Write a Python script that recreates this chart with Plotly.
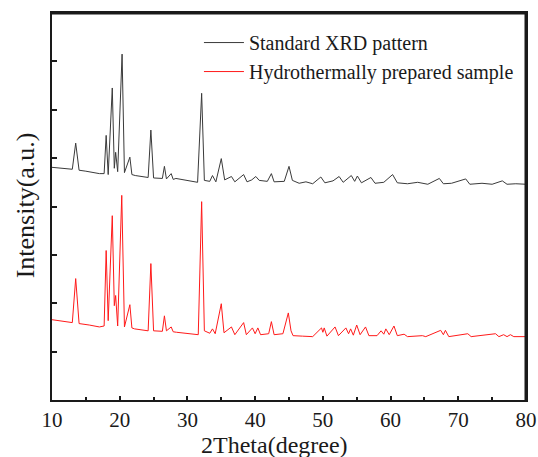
import plotly.graph_objects as go

# Standard XRD pattern (offset upward), vertices
std_x = [10.0, 12.0, 13.0, 13.5, 14.0, 15.0, 17.0, 17.7, 18.0, 18.3, 18.9, 19.2, 19.4, 19.7,
         20.35, 20.7, 21.5, 21.8, 22.3, 24.2, 24.6, 25.0, 26.3, 26.6, 26.9, 27.6, 27.9, 28.3,
         31.5, 32.1, 32.5, 33.3, 33.7, 34.2, 35.0, 35.5, 36.5, 37.0, 38.3, 38.8, 39.5, 40.1,
         40.6, 41.8, 42.4, 42.8, 44.3, 45.0, 45.5, 46.5, 47.5, 48.5, 49.7, 50.3, 51.5, 52.4,
         53.0, 54.2, 54.7, 55.1, 55.7, 57.1, 57.7, 59.0, 60.3, 61.0, 62.5, 64.0, 65.5, 67.2,
         67.8, 69.0, 71.1, 71.7, 73.5, 75.0, 76.5, 77.2, 78.5, 80.0]
std_y = [4.81, 4.78, 4.77, 5.31, 4.75, 4.73, 4.68, 4.68, 5.47, 4.66, 6.45, 4.79, 5.12, 4.72,
         7.15, 4.70, 5.02, 4.66, 4.64, 4.60, 5.58, 4.59, 4.58, 4.83, 4.57, 4.68, 4.56, 4.58,
         4.50, 6.34, 4.54, 4.52, 4.64, 4.51, 4.99, 4.55, 4.62, 4.51, 4.66, 4.51, 4.55, 4.62,
         4.54, 4.52, 4.68, 4.51, 4.52, 4.83, 4.54, 4.48, 4.51, 4.47, 4.61, 4.49, 4.53, 4.62,
         4.50, 4.64, 4.52, 4.63, 4.49, 4.60, 4.48, 4.50, 4.66, 4.49, 4.47, 4.50, 4.46, 4.58,
         4.47, 4.48, 4.57, 4.46, 4.48, 4.46, 4.53, 4.46, 4.47, 4.46]

# Hydrothermally prepared sample
smp_x = [10.0, 12.0, 13.0, 13.5, 14.0, 15.5, 17.0, 17.7, 18.0, 18.3, 18.9, 19.2, 19.4, 19.7,
         20.3, 20.7, 21.5, 21.8, 22.2, 24.2, 24.6, 25.0, 26.3, 26.6, 26.9, 27.6, 27.9, 28.4,
         31.6, 32.1, 32.5, 33.3, 33.7, 34.1, 35.0, 35.4, 36.5, 37.0, 38.3, 38.7, 39.6, 40.0,
         40.4, 40.8, 42.0, 42.4, 42.8, 44.1, 44.9, 45.3, 45.6, 47.0, 48.5, 49.8, 50.0, 50.2,
         50.6, 51.8, 52.3, 53.4, 53.8, 54.1, 54.5, 55.0, 55.5, 56.3, 56.8, 58.0, 58.6, 59.0,
         59.3, 59.8, 60.5, 61.0, 62.0, 62.5, 64.7, 65.2, 67.4, 67.8, 68.1, 68.6, 71.4, 71.9,
         75.5, 76.0, 76.7, 77.2, 77.7, 78.2, 80.0]
smp_y = [1.66, 1.62, 1.60, 2.51, 1.58, 1.55, 1.51, 1.53, 3.09, 1.64, 3.81, 1.95, 2.16, 1.53,
         4.23, 1.51, 1.97, 1.49, 1.47, 1.43, 2.82, 1.43, 1.42, 1.74, 1.43, 1.51, 1.41, 1.40,
         1.35, 4.10, 1.43, 1.38, 1.47, 1.37, 1.99, 1.39, 1.51, 1.35, 1.60, 1.35, 1.49, 1.37,
         1.49, 1.35, 1.37, 1.62, 1.35, 1.37, 1.80, 1.43, 1.33, 1.32, 1.31, 1.49, 1.40, 1.49,
         1.32, 1.51, 1.33, 1.49, 1.37, 1.47, 1.34, 1.55, 1.35, 1.51, 1.33, 1.33, 1.43, 1.36,
         1.47, 1.35, 1.53, 1.33, 1.36, 1.31, 1.33, 1.31, 1.44, 1.35, 1.44, 1.31, 1.37, 1.31,
         1.37, 1.31, 1.35, 1.31, 1.35, 1.31, 1.31]

x_ticks = [10, 20, 30, 40, 50, 60, 70, 80]
y_ticks = [0, 1, 2, 3, 4, 5, 6, 7, 8]

SERIF = "Liberation Serif"
INK = "#1a1a1a"

fig = go.Figure()
fig.add_trace(go.Scatter(x=std_x, y=std_y, mode="lines", name="Standard XRD pattern",
                         line=dict(color="#3a3a3a", width=1)))
fig.add_trace(go.Scatter(x=smp_x, y=smp_y, mode="lines", name="Hydrothermally prepared sample",
                         line=dict(color="#ff1a1a", width=1)))

fig.update_layout(
    width=538, height=457,
    margin=dict(l=52, r=12, t=13, b=57, autoexpand=False),
    paper_bgcolor="white", plot_bgcolor="white",
    font=dict(family=SERIF, color=INK, size=20),
    legend=dict(x=0.31, y=0.974, xanchor="left", yanchor="top",
                bgcolor="rgba(0,0,0,0)", font=dict(size=20, family=SERIF, color=INK),
                itemwidth=40, tracegroupgap=0),
    showlegend=True,
    annotations=[
        dict(text="2Theta(degree)", xref="paper", yref="paper", x=0.47, y=-0.116,
             xanchor="center", yanchor="middle", showarrow=False,
             font=dict(size=24, family=SERIF, color=INK)),
        dict(text="Intensity(a.u.)", xref="paper", yref="paper", x=-0.057, y=0.503,
             xanchor="center", yanchor="middle", showarrow=False, textangle=-90,
             font=dict(size=26, family=SERIF, color=INK)),
    ],
    shapes=[
        dict(type="line", xref="paper", yref="paper", x0=0, x1=1, y0=1, y1=1,
             line=dict(color=INK, width=3)),
        dict(type="line", xref="paper", yref="paper", x0=1, x1=1, y0=0, y1=1,
             line=dict(color=INK, width=3)),
    ],
)
fig.update_xaxes(
    range=[10, 80], tickvals=x_ticks, ticktext=[str(v) for v in x_ticks],
    ticks="inside", ticklen=4, tickwidth=2, tickcolor=INK,
    minor=dict(dtick=5, tick0=10, ticks="inside", ticklen=3, tickwidth=1.5, tickcolor=INK),
    showline=True, linecolor=INK, linewidth=2, mirror=True,
    showgrid=False, zeroline=False, automargin=False,
    tickfont=dict(size=21, family=SERIF, color=INK),
    ticklabelstandoff=0,
)
fig.update_yaxes(
    range=[0, 8], tickvals=y_ticks, showticklabels=False,
    ticks="inside", ticklen=5, tickwidth=2, tickcolor=INK,
    showline=True, linecolor=INK, linewidth=2, mirror=True,
    showgrid=False, zeroline=False, automargin=False,
)
fig.write_html(
    "out.html",
    config={"displayModeBar": False},
    post_script="document.body.style.margin='0';document.body.style.overflow='hidden';",
)
